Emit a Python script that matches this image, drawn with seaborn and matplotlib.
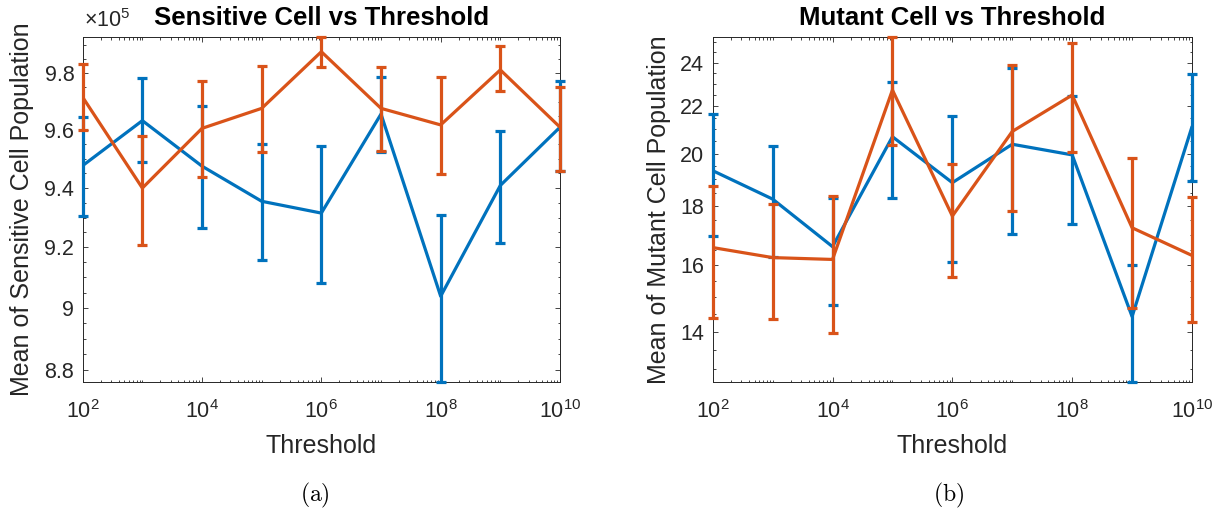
import numpy as np
import pandas as pd
import matplotlib
matplotlib.use("Agg")
import matplotlib.pyplot as plt
import seaborn as sns
from matplotlib.ticker import FixedLocator, FuncFormatter, LogFormatterMathtext, MultipleLocator, NullFormatter

# ---------------- data ----------------
thresholds = [1e2, 1e3, 1e4, 1e5, 1e6, 1e7, 1e8, 1e9, 1e10]

# Sensitive cell population (units of 1e5)
sens_scale = 1e5
sens_blue_mean = [9.477, 9.633, 9.475, 9.355, 9.315, 9.656, 9.038, 9.409, 9.610]
sens_blue_upper = [9.645, 9.782, 9.683, 9.550, 9.546, 9.788, 9.307, 9.597, 9.774]
sens_blue_lower = [9.305, 9.489, 9.264, 9.159, 9.081, 9.523, 8.760, 9.214, 9.457]
sens_orange_mean = [9.715, 9.400, 9.606, 9.676, 9.877, 9.676, 9.618, 9.812, 9.610]
sens_orange_upper = [9.833, 9.581, 9.774, 9.827, 9.931, 9.821, 9.786, 9.898, 9.753]
sens_orange_lower = [9.601, 9.208, 9.439, 9.523, 9.821, 9.529, 9.447, 9.737, 9.458]

# Mutant cell population
mut_blue_mean = [19.33, 18.26, 16.60, 20.69, 18.87, 20.38, 19.95, 14.43, 21.11]
mut_blue_upper = [21.65, 20.32, 18.31, 23.10, 21.57, 23.73, 22.45, 16.00, 23.46]
mut_blue_lower = [16.97, 16.27, 14.77, 18.31, 16.10, 17.03, 17.38, 12.65, 18.93]
mut_orange_mean = [16.57, 16.24, 16.18, 22.72, 17.65, 20.91, 22.49, 17.24, 16.31]
mut_orange_upper = [18.73, 18.07, 18.38, 25.28, 19.59, 23.89, 24.95, 19.84, 18.35]
mut_orange_lower = [14.39, 14.36, 13.96, 20.35, 15.62, 17.84, 20.08, 14.67, 14.26]

sens_yticks = [8.8, 9.0, 9.2, 9.4, 9.6, 9.8]
mut_yticks = [14, 16, 18, 20, 22, 24]
xticks = [1e2, 1e4, 1e6, 1e8, 1e10]

titles = ["Sensitive Cell vs Threshold", "Mutant Cell vs Threshold"]
ylabels = ["Mean of Sensitive Cell Population", "Mean of Mutant Cell Population"]
xlabel = "Threshold"
captions = ["(a)", "(b)"]

BLUE = "#0072BD"
ORANGE = "#D95319"
TXT = "#262626"

# ---------------- style ----------------
sns.set_theme(style="ticks")
plt.rcParams.update({
    "font.family": ["Liberation Sans", "DejaVu Sans"],
    "mathtext.fontset": "custom",
    "mathtext.rm": "Liberation Sans",
    "mathtext.it": "Liberation Sans:italic",
    "mathtext.bf": "Liberation Sans:bold",
    "axes.edgecolor": TXT,
    "axes.linewidth": 0.7,
    "xtick.color": TXT,
    "ytick.color": TXT,
    "text.color": TXT,
})

W, H = 1222, 514
fig = plt.figure(figsize=(W / 100, H / 100), dpi=100)

ax_top, ax_bot = 36.7, 382.3
ax1 = fig.add_axes([82.7 / W, (H - ax_bot) / H, (560 - 82.7) / W, (ax_bot - ax_top) / H])
ax2 = fig.add_axes([712.7 / W, (H - ax_bot) / H, (1192 - 712.7) / W, (ax_bot - ax_top) / H])


def draw(ax, means, lowers, uppers, scale):
    for series_mean, lo, up, col in zip(means, lowers, uppers, [BLUE, ORANGE]):
        m = np.asarray(series_mean) * scale
        lo = np.asarray(lo) * scale
        up = np.asarray(up) * scale
        df = pd.DataFrame({"threshold": thresholds, "mean": m})
        sns.lineplot(data=df, x="threshold", y="mean", color=col, lw=2.3,
                     ax=ax, legend=False, errorbar=None, estimator=None, zorder=3)
        eb = ax.errorbar(thresholds, m, yerr=[m - lo, up - m], fmt="none",
                         ecolor=col, elinewidth=2.3, capsize=3.6, capthick=2.3, zorder=3)
        for art in eb.lines[1] + eb.lines[2]:
            art.set_clip_on(False)
    all_lo = min(min(l) for l in lowers) * scale
    all_up = max(max(u) for u in uppers) * scale
    ax.set_xscale("log")
    ax.set_yscale("log")
    ax.set_xlim(thresholds[0], thresholds[-1])
    ax.set_ylim(all_lo, all_up)


draw(ax1, [sens_blue_mean, sens_orange_mean], [sens_blue_lower, sens_orange_lower],
     [sens_blue_upper, sens_orange_upper], sens_scale)
draw(ax2, [mut_blue_mean, mut_orange_mean], [mut_blue_lower, mut_orange_lower],
     [mut_blue_upper, mut_orange_upper], 1.0)

minor_x = [m * 10.0 ** k for k in range(2, 10) for m in range(2, 10)] + [10.0 ** k for k in (3, 5, 7, 9)]

for ax, yt, scale, minor_step in [(ax1, sens_yticks, sens_scale, 0.05), (ax2, mut_yticks, 1.0, 0.5)]:
    ax.xaxis.set_major_locator(FixedLocator(xticks))
    ax.xaxis.set_major_formatter(LogFormatterMathtext())
    ax.xaxis.set_minor_locator(FixedLocator(minor_x))
    ax.xaxis.set_minor_formatter(NullFormatter())
    ax.yaxis.set_major_locator(FixedLocator([v * scale for v in yt]))
    ax.yaxis.set_major_formatter(FuncFormatter(lambda v, p, s=scale: f"{v / s:g}"))
    ax.yaxis.set_minor_locator(MultipleLocator(minor_step * scale))
    ax.yaxis.set_minor_formatter(NullFormatter())
    ax.tick_params(which="both", direction="in", top=True, right=True, width=0.6)
    ax.tick_params(which="major", length=3.4, labelsize=15.5)
    ax.tick_params(axis="x", which="major", pad=13)
    ax.tick_params(axis="y", which="major", pad=6)
    ax.tick_params(which="minor", length=1.8)
    for s in ax.spines.values():
        s.set_visible(True)
    ax.set_xlabel("")
    ax.set_ylabel("")
    ax.grid(False)

# offset text for left panel
fig.text(84 / W, 1 - 21 / H, r"$\times10^{5}$", ha="left", va="center", fontsize=15.5, color=TXT)

centers = [(82.7 + 560) / 2, (712.7 + 1192) / 2]
ylab_x = [22.5, 659]
cap_x = [315, 949]
for i in range(2):
    fig.text(centers[i] / W, 1 - 18 / H, titles[i], ha="center", va="center",
             fontsize=18.5, fontweight="bold", color="black")
    fig.text(ylab_x[i] / W, 1 - 209.5 / H, ylabels[i], rotation=90, ha="center", va="center",
             fontsize=18, color=TXT)
    fig.text(centers[i] / W, 1 - 446 / H, xlabel, ha="center", va="center", fontsize=18, color=TXT)
    fig.text(cap_x[i] / W, 1 - 495 / H, r"$\mathrm{" + captions[i] + "}$", ha="center", va="center",
             fontsize=17, color="black", math_fontfamily="cm")

fig.savefig("out.png", dpi=100)
